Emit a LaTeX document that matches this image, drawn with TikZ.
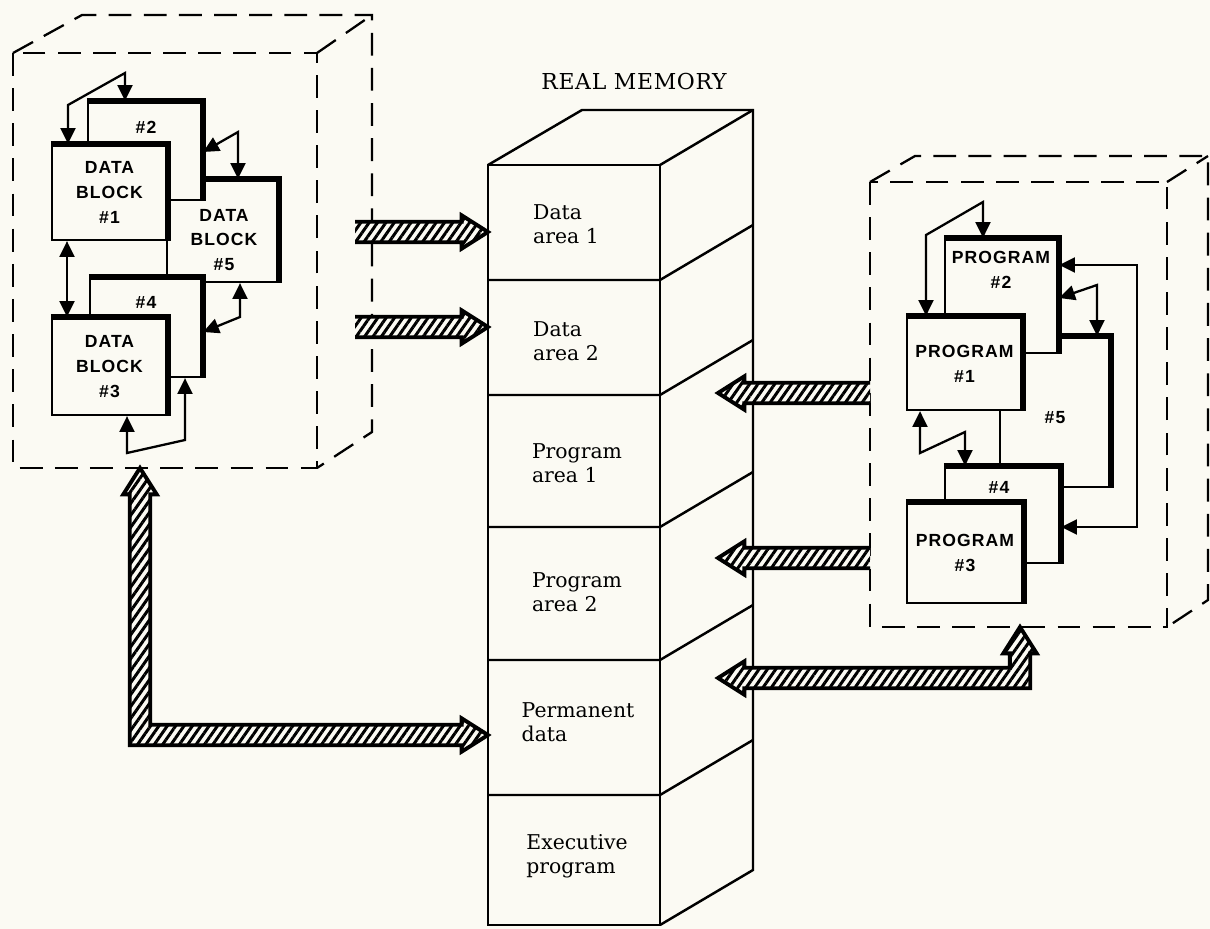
\documentclass[tikz,border=0pt]{standalone}
\usepackage{fontspec}
\setmainfont{DejaVu Serif}
\newfontfamily\blockfont{Liberation Sans}[LetterSpace=6.0]
\usepackage{xcolor}
\usepackage{tikz}
\usetikzlibrary{arrows.meta,calc,patterns.meta}
\definecolor{paper}{RGB}{251,250,243}

% Masse der schraffierten Pfeile
\newcommand\shaftw{5.8pt}
\newcommand\headw{9.5pt}
\newcommand\headl{15pt}

% gerader schraffierter Pfeil: Ende, Spitze
\newcommand\hatcharrow[2]{%
  \path[hatched] let \p1=(#1), \p2=(#2), \n1={ifthenelse(\x2>\x1,1,-1)} in
    (\x1,\y2+\shaftw) -- ({\x2-(\n1)*\headl},\y2+\shaftw) -- ({\x2-(\n1)*\headl},\y2+\headw)
    -- (\x2,\y2) -- ({\x2-(\n1)*\headl},\y2-\headw) -- ({\x2-(\n1)*\headl},\y2-\shaftw)
    -- (\x1,\y2-\shaftw);}

% L-foermiger schraffierter Pfeil: obere Spitze, Ecke, seitliche Spitze
\newcommand\hatchL[3]{%
  \path[hatched] let \p1=(#1), \p2=(#2), \p3=(#3), \n1={ifthenelse(\x3>\x2,1,-1)} in
    ({\x2-(\n1)*\shaftw},\y2-\shaftw) -- ({\x2-(\n1)*\shaftw},\y1-\headl)
    -- ({\x2-(\n1)*\headw},\y1-\headl) -- (\x2,\y1) -- ({\x2+(\n1)*\headw},\y1-\headl)
    -- ({\x2+(\n1)*\shaftw},\y1-\headl) -- ({\x2+(\n1)*\shaftw},\y2+\shaftw)
    -- ({\x3-(\n1)*\headl},\y2+\shaftw) -- ({\x3-(\n1)*\headl},\y2+\headw) -- (\x3,\y2)
    -- ({\x3-(\n1)*\headl},\y2-\headw) -- ({\x3-(\n1)*\headl},\y2-\shaftw) -- cycle;}

% dicke Kanten oben und rechts
\newcommand\heavyedge[1]{\draw[heavy] (#1.north west) -- (#1.north east) -- (#1.south east);}

\tikzset{
  ghost/.style={line width=1.3pt, dash pattern=on 13pt off 7pt},
  memline/.style={line width=1.4pt},
  blk/.style={draw, fill=paper, line width=1.3pt, inner sep=0pt, align=center,
    font=\blockfont\bfseries\fontsize{10}{14.2}\selectfont},
  tag/.style={align=center, font=\blockfont\bfseries\fontsize{10}{14.2}\selectfont},
  heavy/.style={line width=3.2pt},
  link/.style={line width=1.3pt, {Triangle[length=9pt,width=8.5pt]}-{Triangle[length=9pt,width=8.5pt]}},
  memtxt/.style={align=left, font=\fontsize{11.6}{13.4}\selectfont},
  hatched/.style={draw, line width=2.2pt, preaction={fill=paper},
    pattern={Lines[angle=55,distance=3.9pt,line width=1.7pt]}}
}

\begin{document}
\begin{tikzpicture}[x=0.02cm, y=-0.02cm]
\path[use as bounding box, fill=paper] (0,0) rectangle (1210,929);

% Realer Speicher
\node[font=\fontsize{12.5}{15}\selectfont\addfontfeatures{LetterSpace=3}] (title) at (634,82) {REAL MEMORY};
\coordinate (ftl) at (488,165);
\coordinate (ftr) at (660,165);
\coordinate (fbl) at (488,925);
\coordinate (fbr) at (660,925);
\draw[memline] (fbl) rectangle (ftr);
\draw[memline] (ftl) -- (582,110) -- (753,110) -- (753,870) -- (fbr);
\draw[memline] (ftr) -- (753,110);
\foreach \s in {280,395,527,660,795}
  \draw[memline] (488,\s) -- (660,\s) -- ++(93,-55);
\node[memtxt] (m1) at (566,224) {Data\\area 1};
\node[memtxt] (m2) at (566,341) {Data\\area 2};
\node[memtxt] (m3) at (577,463) {Program\\area 1};
\node[memtxt] (m4) at (577,592) {Program\\area 2};
\node[memtxt] (m5) at (578,722) {Permanent\\data};
\node[memtxt] (m6) at (577,856) {Executive\\program};

% Datenbloecke (virtueller Speicher links)
\draw[ghost] (13,53) rectangle (317,468);
\draw[ghost] (13,53) -- (82,15) -- (372,15) -- (372,432) -- (317,468);
\draw[ghost] (317,53) -- (372,15);
\node[blk, minimum width=2.22cm, minimum height=2.04cm] (d5) at (222.5,231) {};
\heavyedge{d5}
\node[tag] (d5txt) at (224,240) {DATA\\BLOCK\\\#5};
\node[blk, minimum width=2.28cm, minimum height=1.96cm] (d2) at (145,151) {};
\heavyedge{d2}
\node[tag] (d2txt) at (146,127) {\#2};
\node[blk, minimum width=2.24cm, minimum height=1.98cm] (d4) at (146,327.5) {};
\heavyedge{d4}
\node[tag] (d4txt) at (146,302) {\#4};
\node[blk, minimum width=2.3cm, minimum height=1.9cm] (d1) at (109.5,192.5) {DATA\\BLOCK\\\#1};
\heavyedge{d1}
\node[blk, minimum width=2.3cm, minimum height=1.94cm] (d3) at (109.5,366.5) {DATA\\BLOCK\\\#3};
\heavyedge{d3}

\coordinate (l1) at (68,105);
\coordinate (l2) at (125,73);
\draw[link] (d1.north -| l1) -- (l1) -- (l2) -- (d2.north -| l2);
\coordinate (l3) at (238,132);
\coordinate (l4) at (0,152);
\draw[link] (d2.east |- l4) -- (l3) -- (d5.north -| l3);
\coordinate (l5) at (67,0);
\draw[link] (d1.south -| l5) -- (d3.north -| l5);
\coordinate (l6) at (0,332);
\coordinate (l7) at (240,317);
\draw[link] (d4.east |- l6) -- (l7) -- (d5.south -| l7);
\coordinate (l8) at (127,453);
\coordinate (l9) at (185,440);
\draw[link] (d3.south -| l8) -- (l8) -- (l9) -- (d4.south -| l9);

% Programme (virtueller Speicher rechts)
\draw[ghost] (870,182) rectangle (1167,627);
\draw[ghost] (870,182) -- (915,156) -- (1208,156) -- (1208,600) -- (1167,627);
\draw[ghost] (1167,182) -- (1208,156);
\node[blk, minimum width=2.2cm, minimum height=3.0cm] (p5) at (1055,412) {};
\heavyedge{p5}
\node[tag] (p5txt) at (1055,418) {\#5};
\node[blk, minimum width=2.26cm, minimum height=2.28cm] (p2) at (1001.5,296) {};
\heavyedge{p2}
\node[tag] (p2txt) at (1001,270) {PROGRAM\\\#2};
\node[blk, minimum width=2.3cm, minimum height=1.92cm] (p4) at (1002.5,515) {};
\heavyedge{p4}
\node[tag] (p4txt) at (999,487) {\#4};
\node[blk, minimum width=2.3cm, minimum height=1.86cm] (p1) at (964.5,363.5) {PROGRAM\\\#1};
\heavyedge{p1}
\node[blk, minimum width=2.32cm, minimum height=2.0cm] (p3) at (965,553) {PROGRAM\\\#3};
\heavyedge{p3}

\coordinate (r1) at (926,235);
\coordinate (r2) at (983,202);
\draw[link] (p1.north -| r1) -- (r1) -- (r2) -- (p2.north -| r2);
\coordinate (r3) at (1137,265);
\coordinate (r4) at (1137,527);
\draw[link] (p2.east |- r3) -- (r3) -- (r4) -- (p4.east |- r4);
\coordinate (r5) at (0,298);
\coordinate (r6) at (1097,285);
\draw[link] (p2.east |- r5) -- (r6) -- (p5.north -| r6);
\coordinate (r7) at (920,453);
\coordinate (r8) at (965,432);
\draw[link] (p1.south -| r7) -- (r7) -- (r8) -- (p4.north -| r8);

% Schraffierte Pfeile
\coordinate (t1) at (355,232);
\coordinate (t2) at (355,327);
\hatcharrow{t1}{ftl |- t1}
\hatcharrow{t2}{ftl |- t2}
\coordinate (u1) at (870,393);
\coordinate (v1) at (718,393);
\hatcharrow{u1}{v1}
\coordinate (u2) at (870,558);
\coordinate (v2) at (718,558);
\hatcharrow{u2}{v2}
\coordinate (lbot) at (140,468);
\coordinate (lc) at (140,735);
\hatchL{lbot}{lc}{ftl |- lc}
\coordinate (rbot) at (1020,627);
\coordinate (rc) at (1020,678);
\coordinate (v3) at (718,678);
\hatchL{rbot}{rc}{v3}
\end{tikzpicture}
\end{document}
